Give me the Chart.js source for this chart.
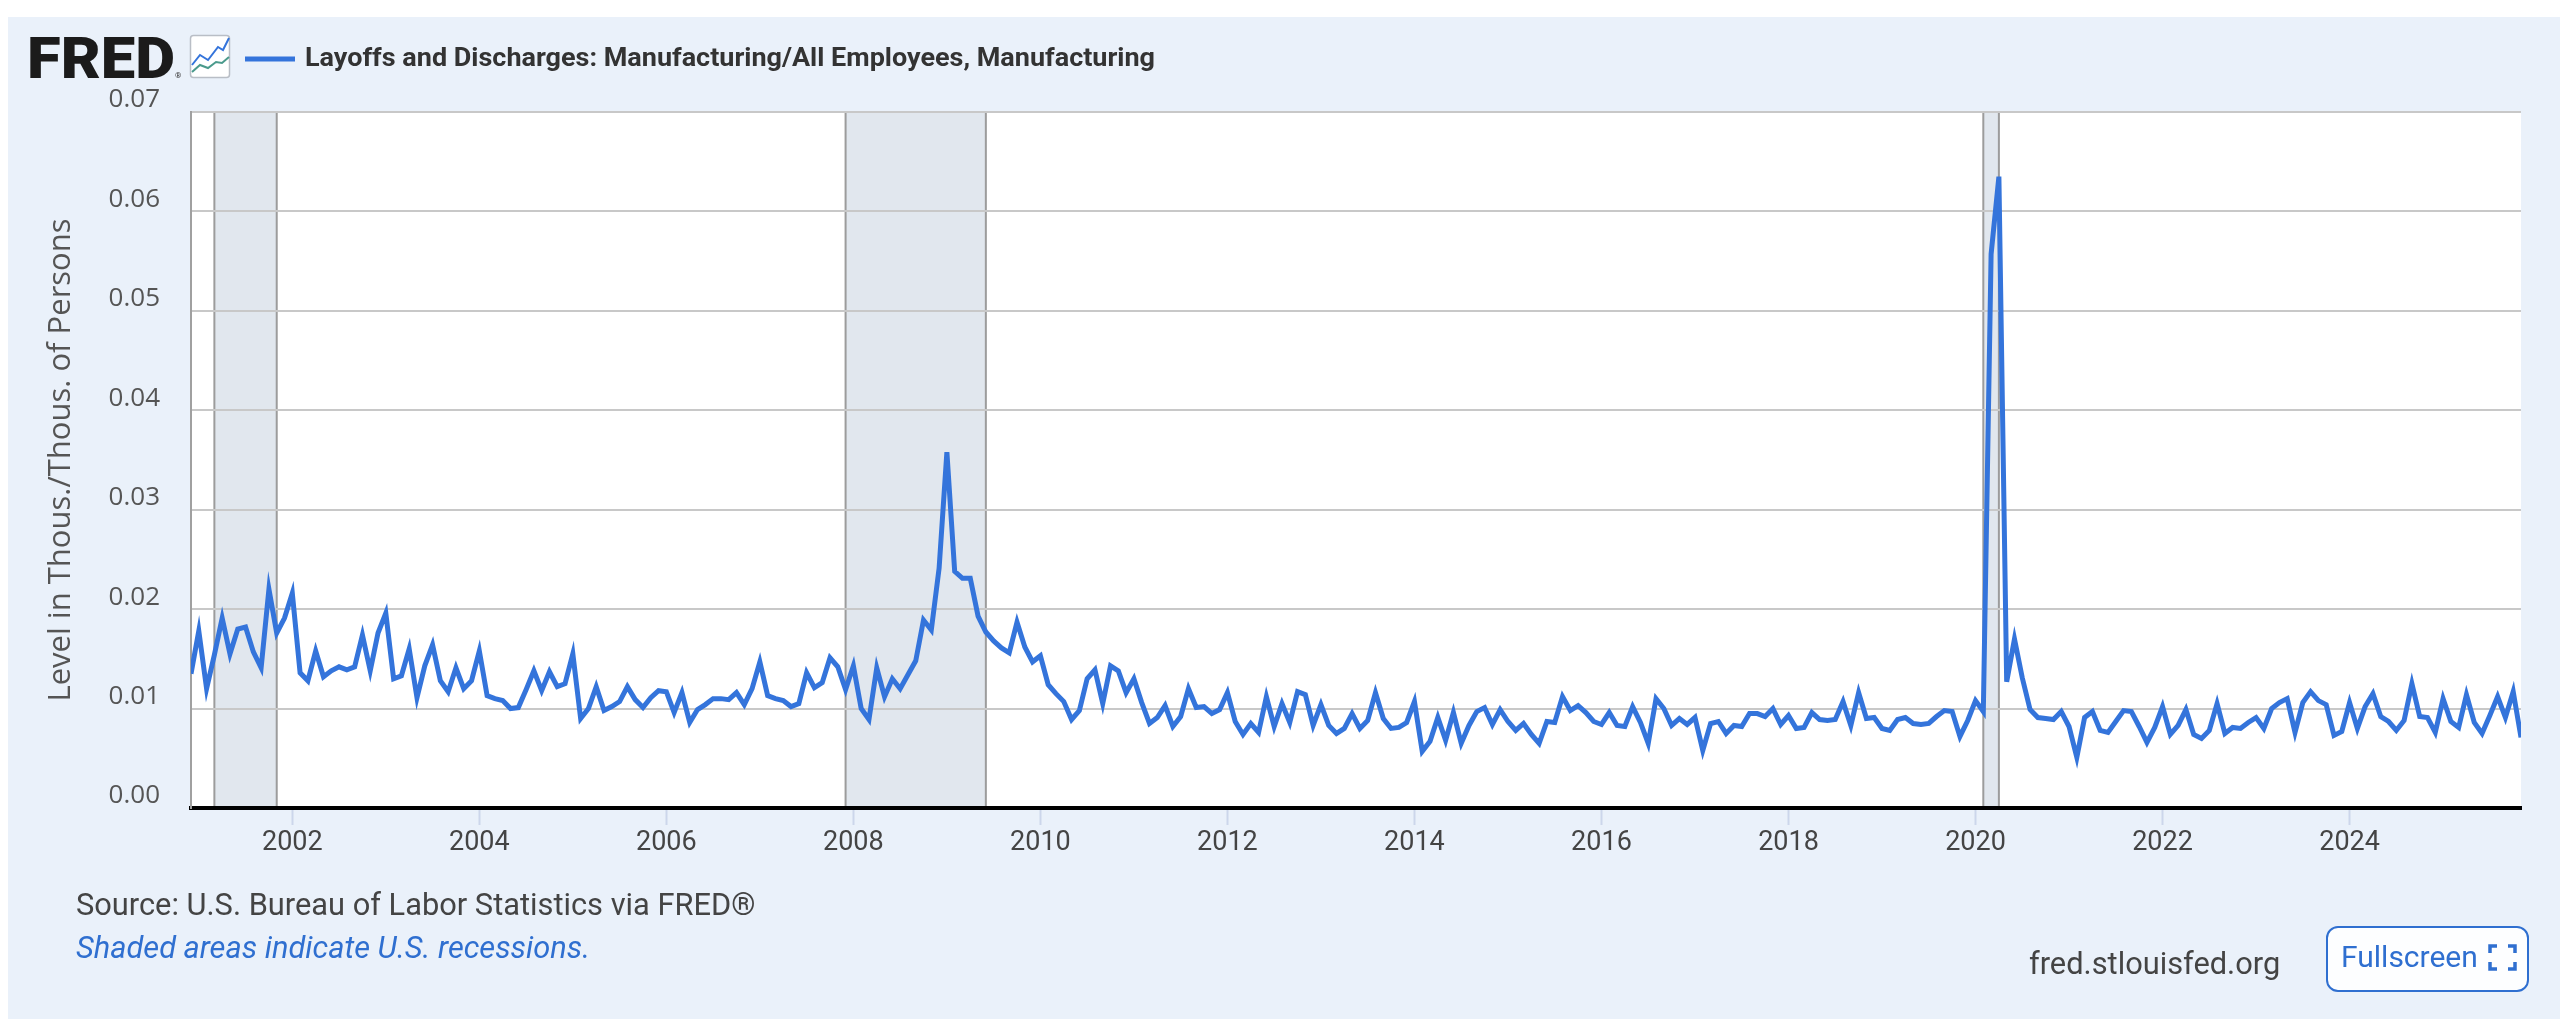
<!DOCTYPE html>
<html><head><meta charset="utf-8">
<script src="https://cdn.jsdelivr.net/npm/chart.js@4.4.1/dist/chart.umd.min.js"></script>
<style>
html,body{margin:0;padding:0;background:#fff;width:2560px;height:1019px;overflow:hidden}
#panel{position:absolute;left:8px;top:17px;width:2552px;height:1002px;background:#eaf1fa}
#chart{position:absolute;left:0;top:0}
#overlay{position:absolute;left:0;top:0;pointer-events:none}
</style></head><body>
<div id="panel"></div>
<canvas id="chart" width="2560" height="1019" style="width:2560px;height:1019px"></canvas>
<svg id="overlay" width="2560" height="1019">
 <text x="27" y="78" font-family="Roboto" font-weight="900" font-size="58" fill="#1b1b1b" textLength="148" lengthAdjust="spacingAndGlyphs">FRED</text>
 <text x="175" y="78" font-family="Roboto" font-size="8" fill="#333">®</text>
 <rect x="190.5" y="35.5" width="39" height="42" rx="3" fill="#fff" stroke="#b9bec6" stroke-width="1.5"/>
 <polyline points="192,65 200,55 208,60 218,47 223,50 229,38" fill="none" stroke="#3474db" stroke-width="2"/>
 <polyline points="192,72 200,65 208,68 216,62 222,63 229,57" fill="none" stroke="#4a9a8c" stroke-width="2"/>
 <line x1="245" y1="59" x2="295" y2="59" stroke="#3474db" stroke-width="5"/>
 <text x="305" y="65.5" font-family="Roboto" font-weight="700" font-size="26" fill="#333" textLength="850" lengthAdjust="spacingAndGlyphs">Layoffs and Discharges: Manufacturing/All Employees, Manufacturing</text>
 <text x="76" y="915" font-family="Roboto" font-size="30.8" fill="#444">Source: U.S. Bureau of Labor Statistics via FRED®</text>
 <text x="76" y="958" font-family="Roboto" font-style="italic" font-size="30.8" fill="#2f6fd0">Shaded areas indicate U.S. recessions.</text>
 <text x="2029" y="974" font-family="Roboto" font-size="30.8" fill="#444">fred.stlouisfed.org</text>
 <rect x="2327" y="927" width="201" height="64" rx="11" fill="#fdfeff" stroke="#2f6fd0" stroke-width="2"/>
 <text x="2341" y="967" font-family="Roboto" font-size="30" fill="#2f6fd0">Fullscreen</text>
 <path d="M2490 953 v-7 h7 M2508 946 h7 v7 M2515 962 v7 h-7 M2497 969 h-7 v-7" fill="none" stroke="#2f6fd0" stroke-width="3.5"/>
</svg>
<script>
// First observation month of the series
const firstMonth = '2000-12';

// Layoffs & discharges / employees, manufacturing — Dec 2000 .. Dec 2009
const values2000s = [
 0.0135,0.0178,0.0120,0.0154,0.0191,0.0155,0.0180,0.0182,0.0157,0.0141,0.0220,0.0176,0.0191,
 0.0216,0.0136,0.0128,0.0158,0.0132,0.0138,0.0142,0.0139,0.0142,0.0174,0.0138,0.0176,
 0.0196,0.0130,0.0133,0.0160,0.0111,0.0143,0.0164,0.0128,0.0117,0.0141,0.0120,0.0128,
 0.0158,0.0113,0.0110,0.0108,0.0100,0.0101,0.0119,0.0138,0.0118,0.0137,0.0122,0.0125,
 0.0155,0.0090,0.0100,0.0122,0.0098,0.0102,0.0107,0.0122,0.0109,0.0101,0.0111,0.0118,
 0.0117,0.0096,0.0116,0.0086,0.0099,0.0104,0.0110,0.0110,0.0109,0.0116,0.0104,0.0120,
 0.0147,0.0113,0.0110,0.0108,0.0102,0.0105,0.0136,0.0121,0.0126,0.0151,0.0142,0.0119,
 0.0143,0.0100,0.0089,0.0141,0.0112,0.0130,0.0120,0.0134,0.0148,0.0189,0.0179,0.0241,
 0.0358,0.0238,0.0231,0.0231,0.0193,0.0177,0.0168,0.0161,0.0156,0.0187,0.0162,0.0147
];
// Jan 2010 .. Dec 2019
const values2010s = [
 0.0153,0.0124,0.0115,0.0107,0.0089,0.0098,0.0130,0.0139,0.0105,0.0143,0.0138,0.0116,
 0.0130,0.0106,0.0085,0.0091,0.0103,0.0082,0.0092,0.0120,0.0101,0.0102,0.0095,0.0099,
 0.0116,0.0087,0.0074,0.0085,0.0076,0.0112,0.0082,0.0105,0.0086,0.0117,0.0114,0.0083,
 0.0104,0.0083,0.0075,0.0080,0.0095,0.0080,0.0088,0.0116,0.0090,0.0080,0.0081,0.0086,
 0.0107,0.0057,0.0067,0.0091,0.0068,0.0096,0.0065,0.0083,0.0097,0.0101,0.0084,0.0099,
 0.0087,0.0078,0.0085,0.0074,0.0065,0.0087,0.0086,0.0112,0.0098,0.0103,0.0096,0.0087,
 0.0084,0.0096,0.0083,0.0082,0.0102,0.0086,0.0065,0.0110,0.0100,0.0083,0.0090,0.0084,
 0.0091,0.0058,0.0085,0.0087,0.0075,0.0083,0.0082,0.0095,0.0095,0.0092,0.0100,0.0084,
 0.0093,0.0080,0.0081,0.0096,0.0089,0.0088,0.0089,0.0107,0.0083,0.0116,0.0090,0.0091,
 0.0080,0.0078,0.0089,0.0091,0.0085,0.0084,0.0085,0.0092,0.0098,0.0097,0.0072,0.0088
];
// Jan 2020 .. Nov 2025
const values2020s = [
 0.0108,0.0097,0.0557,0.0635,0.0127,0.0170,0.0131,0.0099,0.0091,0.0090,0.0089,0.0097,
 0.0082,0.0051,0.0091,0.0097,0.0078,0.0076,0.0087,0.0098,0.0097,0.0082,0.0066,0.0081,
 0.0102,0.0074,0.0083,0.0099,0.0074,0.0070,0.0078,0.0105,0.0075,0.0081,0.0080,0.0086,
 0.0091,0.0080,0.0100,0.0106,0.0110,0.0076,0.0106,0.0117,0.0108,0.0104,0.0073,0.0077,
 0.0106,0.0080,0.0102,0.0115,0.0092,0.0087,0.0078,0.0088,0.0125,0.0092,0.0091,0.0076,
 0.0110,0.0087,0.0081,0.0114,0.0086,0.0075,0.0093,0.0112,0.0091,0.0117,0.0071
];

const tickYears  = [2002,2004,2006,2008,2010,2012,2014,2016,2018,2020,2022,2024];
const tickLabels = ['2002','2004','2006','2008','2010','2012','2014','2016','2018','2020','2022','2024'];
const yTickValues = [0,0.01,0.02,0.03,0.04,0.05,0.06,0.07];

const recessionStarts = ['2001-03','2007-12','2020-02'];
const recessionEnds   = ['2001-11','2009-06','2020-04'];

const values = values2000s.concat(values2010s, values2020s);
const toX = s => { const [y, m] = s.split('-').map(Number); return y + (m - 1) / 12; };
const [fy, fm] = firstMonth.split('-').map(Number);
const monthLabels = values.map((_, i) => {
  const t = (fm - 1) + i;
  const y = fy + Math.floor(t / 12), m = t % 12 + 1;
  return y + '-' + String(m).padStart(2, '0');
});
const points = values.map((v, i) => ({ x: toX(monthLabels[i]), y: v }));

const bgPlugin = {
  id: 'bgRecessions',
  beforeDraw(chart) {
    const { ctx, chartArea: a, scales: { x } } = chart;
    ctx.save();
    ctx.fillStyle = '#ffffff';
    ctx.fillRect(a.left, a.top, a.right - a.left, a.bottom - a.top);
    for (let k = 0; k < recessionStarts.length; k++) {
      const x1 = x.getPixelForValue(toX(recessionStarts[k]));
      const x2 = x.getPixelForValue(toX(recessionEnds[k]));
      ctx.fillStyle = '#e1e7ee';
      ctx.fillRect(x1, a.top, x2 - x1, a.bottom - a.top);
      ctx.strokeStyle = '#9c9c9c';
      ctx.lineWidth = 2;
      ctx.beginPath();
      ctx.moveTo(x1, a.top); ctx.lineTo(x1, a.bottom);
      ctx.moveTo(x2, a.top); ctx.lineTo(x2, a.bottom);
      ctx.stroke();
    }
    ctx.restore();
  }
};

new Chart(document.getElementById('chart'), {
  type: 'line',
  data: { datasets: [{
    label: 'Layoffs and Discharges: Manufacturing/All Employees, Manufacturing',
    data: points,
    borderColor: '#3474db',
    borderWidth: 5,
    pointRadius: 0,
    fill: false,
    tension: 0
  }]},
  options: {
    responsive: false,
    animation: false,
    devicePixelRatio: 1,
    layout: { padding: { left: 0, right: 39, top: 112, bottom: 0 } },
    plugins: { legend: { display: false }, tooltip: { enabled: false } },
    scales: {
      x: {
        type: 'linear',
        min: points[0].x,
        max: points[points.length - 1].x,
        afterBuildTicks: s => { s.ticks = tickYears.map(v => ({ value: v })); },
        afterFit: s => { s.height = 211; },
        ticks: {
          callback: v => { const k = tickYears.indexOf(v); return k >= 0 ? tickLabels[k] : ''; },
          font: { family: 'Roboto', size: 27 },
          color: '#444',
          padding: 2,
          maxRotation: 0,
          autoSkip: false
        },
        grid: { drawOnChartArea: false, drawTicks: true, tickLength: 17, tickColor: '#ccd6eb', tickWidth: 2 },
        border: { display: true, color: '#000', width: 4 }
      },
      y: {
        min: 0,
        max: 0.07,
        afterBuildTicks: s => { s.ticks = yTickValues.map(v => ({ value: v })); },
        afterFit: s => { s.width = 191; },
        ticks: {
          callback: v => v.toFixed(2),
          font: { family: 'Open Sans', size: 26 },
          color: '#555',
          padding: 31,
          labelOffset: -12
        },
        grid: {
          color: c => (c.tick && c.tick.value === 0) ? 'rgba(0,0,0,0)' : '#c8c8c8',
          lineWidth: 2,
          drawTicks: false
        },
        border: { color: '#a0a0a0', width: 2 },
        title: {
          display: true,
          text: 'Level in Thous./Thous. of Persons',
          font: { family: 'Open Sans', size: 31 },
          color: '#555',
          padding: { top: 43, bottom: 0 }
        }
      }
    }
  },
  plugins: [bgPlugin]
});
</script>
</body></html>
